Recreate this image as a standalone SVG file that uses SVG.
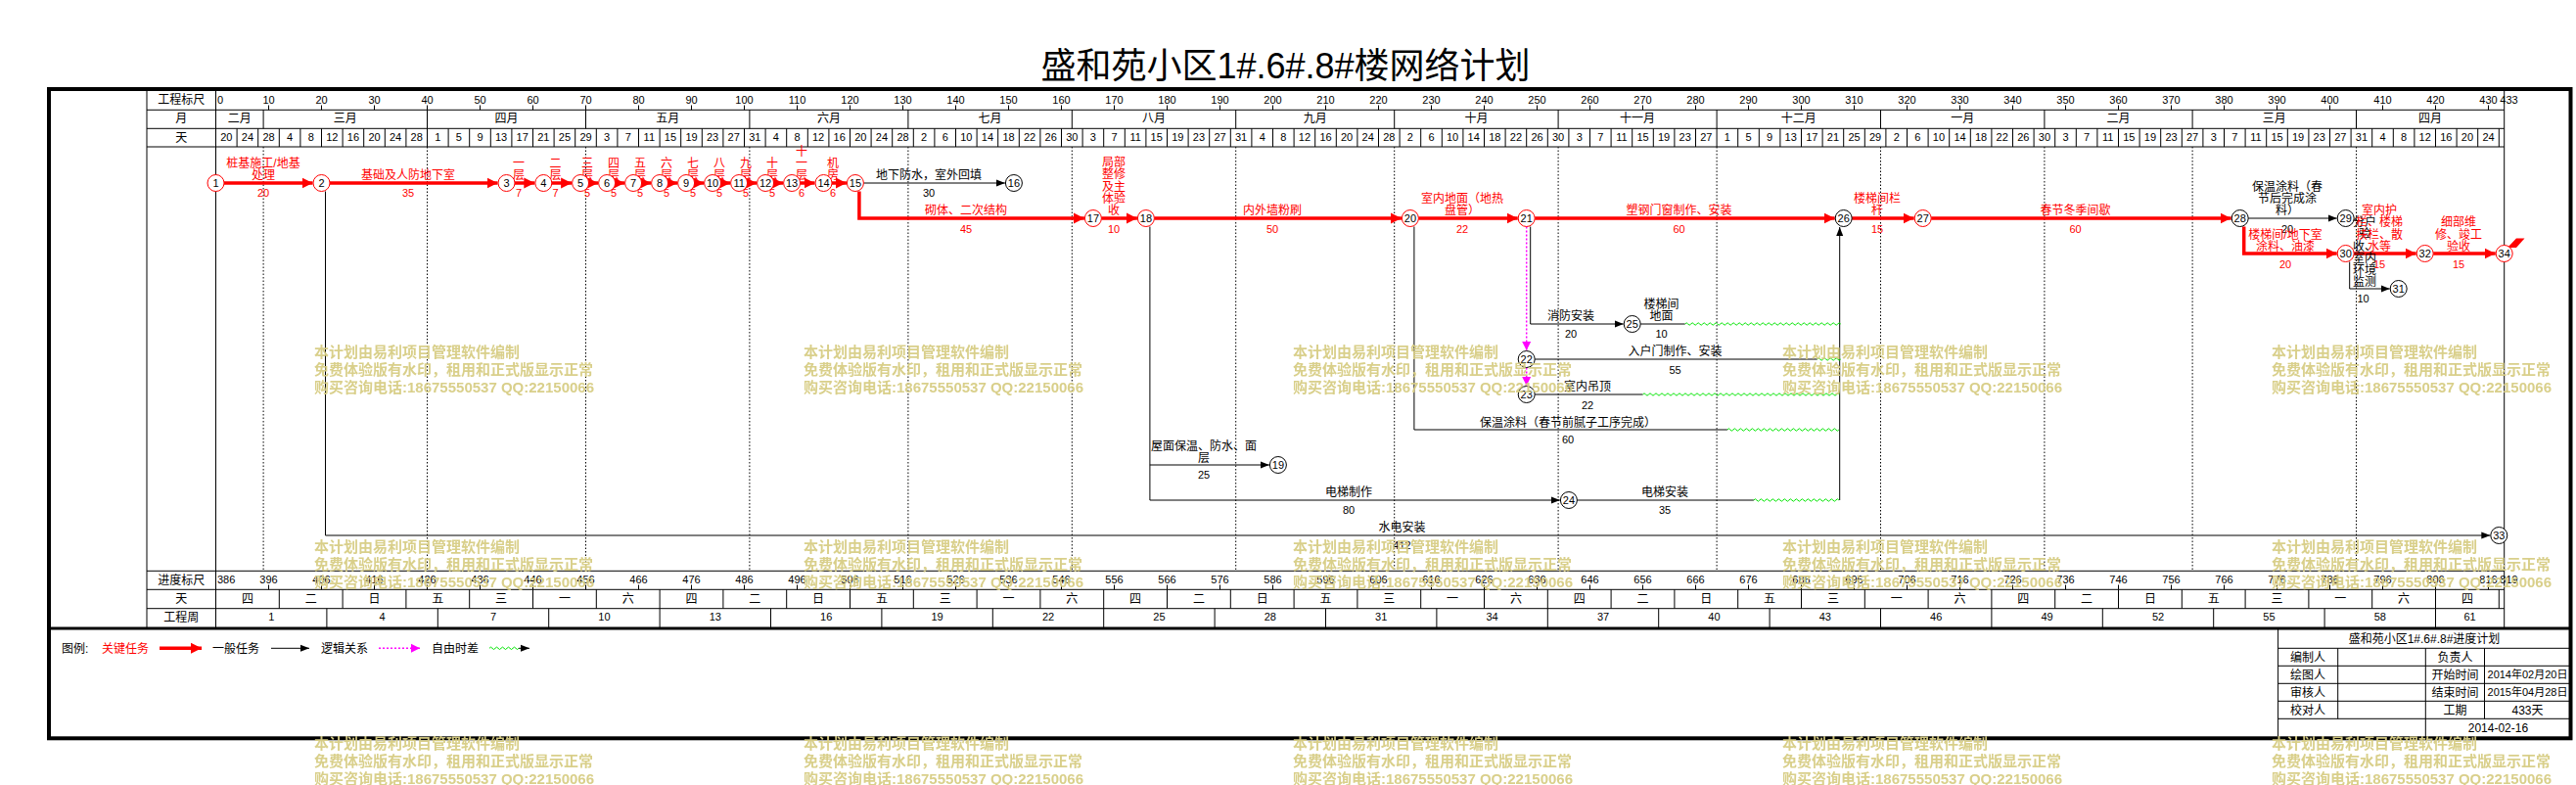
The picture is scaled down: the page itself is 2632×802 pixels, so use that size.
<svg xmlns="http://www.w3.org/2000/svg" xmlns:xlink="http://www.w3.org/1999/xlink" width="2632" height="802" viewBox="0 0 2632 802">
<style>
text{font-family:"Liberation Sans","Noto Sans CJK SC",sans-serif;font-size:12px;fill:#000}
.c{text-anchor:middle}
.d{font-size:11px}
.r{fill:#ff0000}
.ln{stroke:#000;stroke-width:1;fill:none}
.dot{stroke:#000;stroke-width:1;stroke-dasharray:1.5 2;fill:none}
.crit{stroke:#ff0000;stroke-width:3.5;fill:none;marker-end:url(#ar)}
.norm{stroke:#000;stroke-width:1;fill:none;marker-end:url(#ab)}
.logic{stroke:#ff00ff;stroke-width:1.5;stroke-dasharray:2 2;fill:none;marker-end:url(#am)}
.wave{stroke:#00e600;stroke-width:1;fill:none}
.nd{fill:#fff;stroke-width:1}
.ndr{stroke:#ff0000}
.ndb{stroke:#000}
.nn{font-size:11px;text-anchor:middle}
.wm text{font-size:15px;font-weight:bold;fill:#d7cd84}
</style>
<defs>
<marker id="ar" markerUnits="userSpaceOnUse" viewBox="0 0 12 12" refX="11" refY="6" markerWidth="12" markerHeight="12" orient="auto"><path d="M0,0.5L11,6L0,11.5z" fill="#ff0000"/></marker>
<marker id="ab" markerUnits="userSpaceOnUse" viewBox="0 0 10 8" refX="9" refY="4" markerWidth="10" markerHeight="8" orient="auto"><path d="M0,0.5L9,4L0,7.5z" fill="#000"/></marker>
<marker id="am" markerUnits="userSpaceOnUse" viewBox="0 0 10 10" refX="9" refY="5" markerWidth="10" markerHeight="10" orient="auto"><path d="M0,0.5L9,5L0,9.5z" fill="#ff00ff"/></marker>
<g id="wmk" class="wm"><text x="0" y="0">本计划由易利项目管理软件编制</text><text x="0" y="18.4">免费体验版有水印，租用和正式版显示正常</text><text x="0" y="36.4">购买咨询电话:18675550537 QQ:22150066</text></g>
</defs>
<rect width="2632" height="802" fill="#fff"/>

<g id="title"><text class="c" x="1313.5" y="80" style="font-size:36px">盛和苑小区1#.6#.8#楼网络计划</text></g>

<g id="frame">
<rect x="50" y="91" width="2576.5" height="663.3" fill="none" stroke="#000" stroke-width="4"/>
<path d="M50,642H2626.5" stroke="#000" stroke-width="3"/>
<path class="ln" d="M150,91V642M220.5,91V642M2558.7,91V642M150,112.3H2558.7M150,131.3H2558.7M150,150H2558.7M150,583.3H2558.7M150,602.3H2558.7M150,621.7H2558.7"/>
</g>

<g id="timescale-top">
<text class="c" x="185.2" y="106">工程标尺</text>
<text class="c" x="185.2" y="125.3">月</text>
<text class="c" x="185.2" y="144.6">天</text>
<path class="ln" d="M274.5,107.5V112.3M328.5,107.5V112.3M382.5,107.5V112.3M436.5,107.5V112.3M490.5,107.5V112.3M544.5,107.5V112.3M598.5,107.5V112.3M652.5,107.5V112.3M706.5,107.5V112.3M760.5,107.5V112.3M814.5,107.5V112.3M868.5,107.5V112.3M922.5,107.5V112.3M976.5,107.5V112.3M1030.5,107.5V112.3M1084.5,107.5V112.3M1138.5,107.5V112.3M1192.5,107.5V112.3M1246.5,107.5V112.3M1300.5,107.5V112.3M1354.5,107.5V112.3M1408.5,107.5V112.3M1462.5,107.5V112.3M1516.5,107.5V112.3M1570.5,107.5V112.3M1624.5,107.5V112.3M1678.5,107.5V112.3M1732.5,107.5V112.3M1786.5,107.5V112.3M1840.5,107.5V112.3M1894.5,107.5V112.3M1948.5,107.5V112.3M2002.5,107.5V112.3M2056.5,107.5V112.3M2110.5,107.5V112.3M2164.5,107.5V112.3M2218.5,107.5V112.3M2272.5,107.5V112.3M2326.5,107.5V112.3M2380.5,107.5V112.3M2434.5,107.5V112.3M2488.5,107.5V112.3M2542.5,107.5V112.3"/>
<text class="d" x="222" y="105.7">0</text>
<text class="c d" y="105.7"><tspan x="274.5">10</tspan><tspan x="328.5">20</tspan><tspan x="382.5">30</tspan><tspan x="436.5">40</tspan><tspan x="490.5">50</tspan><tspan x="544.5">60</tspan><tspan x="598.5">70</tspan><tspan x="652.5">80</tspan><tspan x="706.5">90</tspan><tspan x="760.5">100</tspan><tspan x="814.5">110</tspan><tspan x="868.5">120</tspan><tspan x="922.5">130</tspan><tspan x="976.5">140</tspan><tspan x="1030.5">150</tspan><tspan x="1084.5">160</tspan><tspan x="1138.5">170</tspan><tspan x="1192.5">180</tspan><tspan x="1246.5">190</tspan><tspan x="1300.5">200</tspan><tspan x="1354.5">210</tspan><tspan x="1408.5">220</tspan><tspan x="1462.5">230</tspan><tspan x="1516.5">240</tspan><tspan x="1570.5">250</tspan><tspan x="1624.5">260</tspan><tspan x="1678.5">270</tspan><tspan x="1732.5">280</tspan><tspan x="1786.5">290</tspan><tspan x="1840.5">300</tspan><tspan x="1894.5">310</tspan><tspan x="1948.5">320</tspan><tspan x="2002.5">330</tspan><tspan x="2056.5">340</tspan><tspan x="2110.5">350</tspan><tspan x="2164.5">360</tspan><tspan x="2218.5">370</tspan><tspan x="2272.5">380</tspan><tspan x="2326.5">390</tspan><tspan x="2380.5">400</tspan><tspan x="2434.5">410</tspan><tspan x="2488.5">420</tspan><tspan x="2542.5">430</tspan><tspan x="2563.5">433</tspan></text>
<path class="ln" d="M269.1,112.3V131.3M436.5,112.3V131.3M598.5,112.3V131.3M765.9,112.3V131.3M927.9,112.3V131.3M1095.3,112.3V131.3M1262.7,112.3V131.3M1424.7,112.3V131.3M1592.1,112.3V131.3M1754.1,112.3V131.3M1921.5,112.3V131.3M2088.9,112.3V131.3M2240.1,112.3V131.3M2407.5,112.3V131.3"/>
<text class="c" y="125.3"><tspan x="244.8">二月</tspan><tspan x="352.8">三月</tspan><tspan x="517.5">四月</tspan><tspan x="682.2">五月</tspan><tspan x="846.9">六月</tspan><tspan x="1011.6">七月</tspan><tspan x="1179">八月</tspan><tspan x="1343.7">九月</tspan><tspan x="1508.4">十月</tspan><tspan x="1673.1">十一月</tspan><tspan x="1837.8">十二月</tspan><tspan x="2005.2">一月</tspan><tspan x="2164.5">二月</tspan><tspan x="2323.8">三月</tspan><tspan x="2483.1">四月</tspan></text>
<path class="ln" d="M242.1,131.3V150M263.7,131.3V150M285.3,131.3V150M306.9,131.3V150M328.5,131.3V150M350.1,131.3V150M371.7,131.3V150M393.3,131.3V150M414.9,131.3V150M436.5,131.3V150M458.1,131.3V150M479.7,131.3V150M501.3,131.3V150M522.9,131.3V150M544.5,131.3V150M566.1,131.3V150M587.7,131.3V150M609.3,131.3V150M630.9,131.3V150M652.5,131.3V150M674.1,131.3V150M695.7,131.3V150M717.3,131.3V150M738.9,131.3V150M760.5,131.3V150M782.1,131.3V150M803.7,131.3V150M825.3,131.3V150M846.9,131.3V150M868.5,131.3V150M890.1,131.3V150M911.7,131.3V150M933.3,131.3V150M954.9,131.3V150M976.5,131.3V150M998.1,131.3V150M1019.7,131.3V150M1041.3,131.3V150M1062.9,131.3V150M1084.5,131.3V150M1106.1,131.3V150M1127.7,131.3V150M1149.3,131.3V150M1170.9,131.3V150M1192.5,131.3V150M1214.1,131.3V150M1235.7,131.3V150M1257.3,131.3V150M1278.9,131.3V150M1300.5,131.3V150M1322.1,131.3V150M1343.7,131.3V150M1365.3,131.3V150M1386.9,131.3V150M1408.5,131.3V150M1430.1,131.3V150M1451.7,131.3V150M1473.3,131.3V150M1494.9,131.3V150M1516.5,131.3V150M1538.1,131.3V150M1559.7,131.3V150M1581.3,131.3V150M1602.9,131.3V150M1624.5,131.3V150M1646.1,131.3V150M1667.7,131.3V150M1689.3,131.3V150M1710.9,131.3V150M1732.5,131.3V150M1754.1,131.3V150M1775.7,131.3V150M1797.3,131.3V150M1818.9,131.3V150M1840.5,131.3V150M1862.1,131.3V150M1883.7,131.3V150M1905.3,131.3V150M1926.9,131.3V150M1948.5,131.3V150M1970.1,131.3V150M1991.7,131.3V150M2013.3,131.3V150M2034.9,131.3V150M2056.5,131.3V150M2078.1,131.3V150M2099.7,131.3V150M2121.3,131.3V150M2142.9,131.3V150M2164.5,131.3V150M2186.1,131.3V150M2207.7,131.3V150M2229.3,131.3V150M2250.9,131.3V150M2272.5,131.3V150M2294.1,131.3V150M2315.7,131.3V150M2337.3,131.3V150M2358.9,131.3V150M2380.5,131.3V150M2402.1,131.3V150M2423.7,131.3V150M2445.3,131.3V150M2466.9,131.3V150M2488.5,131.3V150M2510.1,131.3V150M2531.7,131.3V150M2553.3,131.3V150"/>
<text class="c d" y="144.3"><tspan x="231.3">20</tspan><tspan x="252.9">24</tspan><tspan x="274.5">28</tspan><tspan x="296.1">4</tspan><tspan x="317.7">8</tspan><tspan x="339.3">12</tspan><tspan x="360.9">16</tspan><tspan x="382.5">20</tspan><tspan x="404.1">24</tspan><tspan x="425.7">28</tspan><tspan x="447.3">1</tspan><tspan x="468.9">5</tspan><tspan x="490.5">9</tspan><tspan x="512.1">13</tspan><tspan x="533.7">17</tspan><tspan x="555.3">21</tspan><tspan x="576.9">25</tspan><tspan x="598.5">29</tspan><tspan x="620.1">3</tspan><tspan x="641.7">7</tspan><tspan x="663.3">11</tspan><tspan x="684.9">15</tspan><tspan x="706.5">19</tspan><tspan x="728.1">23</tspan><tspan x="749.7">27</tspan><tspan x="771.3">31</tspan><tspan x="792.9">4</tspan><tspan x="814.5">8</tspan><tspan x="836.1">12</tspan><tspan x="857.7">16</tspan><tspan x="879.3">20</tspan><tspan x="900.9">24</tspan><tspan x="922.5">28</tspan><tspan x="944.1">2</tspan><tspan x="965.7">6</tspan><tspan x="987.3">10</tspan><tspan x="1008.9">14</tspan><tspan x="1030.5">18</tspan><tspan x="1052.1">22</tspan><tspan x="1073.7">26</tspan><tspan x="1095.3">30</tspan><tspan x="1116.9">3</tspan><tspan x="1138.5">7</tspan><tspan x="1160.1">11</tspan><tspan x="1181.7">15</tspan><tspan x="1203.3">19</tspan><tspan x="1224.9">23</tspan><tspan x="1246.5">27</tspan><tspan x="1268.1">31</tspan><tspan x="1289.7">4</tspan><tspan x="1311.3">8</tspan><tspan x="1332.9">12</tspan><tspan x="1354.5">16</tspan><tspan x="1376.1">20</tspan><tspan x="1397.7">24</tspan><tspan x="1419.3">28</tspan><tspan x="1440.9">2</tspan><tspan x="1462.5">6</tspan><tspan x="1484.1">10</tspan><tspan x="1505.7">14</tspan><tspan x="1527.3">18</tspan><tspan x="1548.9">22</tspan><tspan x="1570.5">26</tspan><tspan x="1592.1">30</tspan><tspan x="1613.7">3</tspan><tspan x="1635.3">7</tspan><tspan x="1656.9">11</tspan><tspan x="1678.5">15</tspan><tspan x="1700.1">19</tspan><tspan x="1721.7">23</tspan><tspan x="1743.3">27</tspan><tspan x="1764.9">1</tspan><tspan x="1786.5">5</tspan><tspan x="1808.1">9</tspan><tspan x="1829.7">13</tspan><tspan x="1851.3">17</tspan><tspan x="1872.9">21</tspan><tspan x="1894.5">25</tspan><tspan x="1916.1">29</tspan><tspan x="1937.7">2</tspan><tspan x="1959.3">6</tspan><tspan x="1980.9">10</tspan><tspan x="2002.5">14</tspan><tspan x="2024.1">18</tspan><tspan x="2045.7">22</tspan><tspan x="2067.3">26</tspan><tspan x="2088.9">30</tspan><tspan x="2110.5">3</tspan><tspan x="2132.1">7</tspan><tspan x="2153.7">11</tspan><tspan x="2175.3">15</tspan><tspan x="2196.9">19</tspan><tspan x="2218.5">23</tspan><tspan x="2240.1">27</tspan><tspan x="2261.7">3</tspan><tspan x="2283.3">7</tspan><tspan x="2304.9">11</tspan><tspan x="2326.5">15</tspan><tspan x="2348.1">19</tspan><tspan x="2369.7">23</tspan><tspan x="2391.3">27</tspan><tspan x="2412.9">31</tspan><tspan x="2434.5">4</tspan><tspan x="2456.1">8</tspan><tspan x="2477.7">12</tspan><tspan x="2499.3">16</tspan><tspan x="2520.9">20</tspan><tspan x="2542.5">24</tspan></text>
</g>

<g id="month-lines">
<path class="dot" d="M269.1,150V583.3M436.5,150V583.3M598.5,150V583.3M765.9,150V583.3M927.9,150V583.3M1095.3,150V583.3M1262.7,150V583.3M1424.7,150V583.3M1592.1,150V583.3M1754.1,150V583.3M1921.5,150V583.3M2088.9,150V583.3M2240.1,150V583.3M2407.5,150V583.3"/>
</g>

<g id="timescale-bottom">
<text class="c" x="185.2" y="596.6">进度标尺</text>
<text class="c" x="185.2" y="616">天</text>
<text class="c" x="185.2" y="634.6">工程周</text>
<path class="ln" d="M274.5,597.5V602.3M328.5,597.5V602.3M382.5,597.5V602.3M436.5,597.5V602.3M490.5,597.5V602.3M544.5,597.5V602.3M598.5,597.5V602.3M652.5,597.5V602.3M706.5,597.5V602.3M760.5,597.5V602.3M814.5,597.5V602.3M868.5,597.5V602.3M922.5,597.5V602.3M976.5,597.5V602.3M1030.5,597.5V602.3M1084.5,597.5V602.3M1138.5,597.5V602.3M1192.5,597.5V602.3M1246.5,597.5V602.3M1300.5,597.5V602.3M1354.5,597.5V602.3M1408.5,597.5V602.3M1462.5,597.5V602.3M1516.5,597.5V602.3M1570.5,597.5V602.3M1624.5,597.5V602.3M1678.5,597.5V602.3M1732.5,597.5V602.3M1786.5,597.5V602.3M1840.5,597.5V602.3M1894.5,597.5V602.3M1948.5,597.5V602.3M2002.5,597.5V602.3M2056.5,597.5V602.3M2110.5,597.5V602.3M2164.5,597.5V602.3M2218.5,597.5V602.3M2272.5,597.5V602.3M2326.5,597.5V602.3M2380.5,597.5V602.3M2434.5,597.5V602.3M2488.5,597.5V602.3M2542.5,597.5V602.3"/>
<text class="d" x="222" y="596.3">386</text>
<text class="c d" y="596.3"><tspan x="274.5">396</tspan><tspan x="328.5">406</tspan><tspan x="382.5">416</tspan><tspan x="436.5">426</tspan><tspan x="490.5">436</tspan><tspan x="544.5">446</tspan><tspan x="598.5">456</tspan><tspan x="652.5">466</tspan><tspan x="706.5">476</tspan><tspan x="760.5">486</tspan><tspan x="814.5">496</tspan><tspan x="868.5">506</tspan><tspan x="922.5">516</tspan><tspan x="976.5">526</tspan><tspan x="1030.5">536</tspan><tspan x="1084.5">546</tspan><tspan x="1138.5">556</tspan><tspan x="1192.5">566</tspan><tspan x="1246.5">576</tspan><tspan x="1300.5">586</tspan><tspan x="1354.5">596</tspan><tspan x="1408.5">606</tspan><tspan x="1462.5">616</tspan><tspan x="1516.5">626</tspan><tspan x="1570.5">636</tspan><tspan x="1624.5">646</tspan><tspan x="1678.5">656</tspan><tspan x="1732.5">666</tspan><tspan x="1786.5">676</tspan><tspan x="1840.5">686</tspan><tspan x="1894.5">696</tspan><tspan x="1948.5">706</tspan><tspan x="2002.5">716</tspan><tspan x="2056.5">726</tspan><tspan x="2110.5">736</tspan><tspan x="2164.5">746</tspan><tspan x="2218.5">756</tspan><tspan x="2272.5">766</tspan><tspan x="2326.5">776</tspan><tspan x="2380.5">786</tspan><tspan x="2434.5">796</tspan><tspan x="2488.5">806</tspan><tspan x="2542.5">816</tspan><tspan x="2563.5">819</tspan></text>
<path class="ln" d="M285.3,602.3V621.7M350.1,602.3V621.7M414.9,602.3V621.7M479.7,602.3V621.7M544.5,602.3V621.7M609.3,602.3V621.7M674.1,602.3V621.7M738.9,602.3V621.7M803.7,602.3V621.7M868.5,602.3V621.7M933.3,602.3V621.7M998.1,602.3V621.7M1062.9,602.3V621.7M1127.7,602.3V621.7M1192.5,602.3V621.7M1257.3,602.3V621.7M1322.1,602.3V621.7M1386.9,602.3V621.7M1451.7,602.3V621.7M1516.5,602.3V621.7M1581.3,602.3V621.7M1646.1,602.3V621.7M1710.9,602.3V621.7M1775.7,602.3V621.7M1840.5,602.3V621.7M1905.3,602.3V621.7M1970.1,602.3V621.7M2034.9,602.3V621.7M2099.7,602.3V621.7M2164.5,602.3V621.7M2229.3,602.3V621.7M2294.1,602.3V621.7M2358.9,602.3V621.7M2423.7,602.3V621.7M2488.5,602.3V621.7M2553.3,602.3V621.7"/>
<text class="c" y="616.3"><tspan x="252.9">四</tspan><tspan x="317.7">二</tspan><tspan x="382.5">日</tspan><tspan x="447.3">五</tspan><tspan x="512.1">三</tspan><tspan x="576.9">一</tspan><tspan x="641.7">六</tspan><tspan x="706.5">四</tspan><tspan x="771.3">二</tspan><tspan x="836.1">日</tspan><tspan x="900.9">五</tspan><tspan x="965.7">三</tspan><tspan x="1030.5">一</tspan><tspan x="1095.3">六</tspan><tspan x="1160.1">四</tspan><tspan x="1224.9">二</tspan><tspan x="1289.7">日</tspan><tspan x="1354.5">五</tspan><tspan x="1419.3">三</tspan><tspan x="1484.1">一</tspan><tspan x="1548.9">六</tspan><tspan x="1613.7">四</tspan><tspan x="1678.5">二</tspan><tspan x="1743.3">日</tspan><tspan x="1808.1">五</tspan><tspan x="1872.9">三</tspan><tspan x="1937.7">一</tspan><tspan x="2002.5">六</tspan><tspan x="2067.3">四</tspan><tspan x="2132.1">二</tspan><tspan x="2196.9">日</tspan><tspan x="2261.7">五</tspan><tspan x="2326.5">三</tspan><tspan x="2391.3">一</tspan><tspan x="2456.1">六</tspan><tspan x="2520.9">四</tspan></text>
<path class="ln" d="M333.9,621.7V642M447.3,621.7V642M560.7,621.7V642M674.1,621.7V642M787.5,621.7V642M900.9,621.7V642M1014.3,621.7V642M1127.7,621.7V642M1241.1,621.7V642M1354.5,621.7V642M1467.9,621.7V642M1581.3,621.7V642M1694.7,621.7V642M1808.1,621.7V642M1921.5,621.7V642M2034.9,621.7V642M2148.3,621.7V642M2261.7,621.7V642M2375.1,621.7V642M2488.5,621.7V642"/>
<text class="c d" y="634.3"><tspan x="277.2">1</tspan><tspan x="390.6">4</tspan><tspan x="504">7</tspan><tspan x="617.4">10</tspan><tspan x="730.8">13</tspan><tspan x="844.2">16</tspan><tspan x="957.6">19</tspan><tspan x="1071">22</tspan><tspan x="1184.4">25</tspan><tspan x="1297.8">28</tspan><tspan x="1411.2">31</tspan><tspan x="1524.6">34</tspan><tspan x="1638">37</tspan><tspan x="1751.4">40</tspan><tspan x="1864.8">43</tspan><tspan x="1978.2">46</tspan><tspan x="2091.6">49</tspan><tspan x="2205">52</tspan><tspan x="2318.4">55</tspan><tspan x="2431.8">58</tspan><tspan x="2523.6">61</tspan></text>
</g>

<g id="connectors">
<path class="crit" d="M229,187H319.5"/>
<path class="crit" d="M337,187H508.5"/>
<path class="crit" d="M526,187H546.3"/>
<path class="crit" d="M563.8,187H584.1"/>
<path class="crit" d="M601.6,187H611.1"/>
<path class="crit" d="M628.6,187H638.1"/>
<path class="crit" d="M655.6,187H665.1"/>
<path class="crit" d="M682.6,187H692.1"/>
<path class="crit" d="M709.6,187H719.1"/>
<path class="crit" d="M736.6,187H746.1"/>
<path class="crit" d="M763.6,187H773.1"/>
<path class="crit" d="M790.6,187H800.1"/>
<path class="crit" d="M817.6,187H832.5"/>
<path class="crit" d="M850,187H864.9"/>
<path class="crit" d="M877.9,195.5V223H1107.9"/>
<path class="crit" d="M1125.4,223H1161.9"/>
<path class="crit" d="M1179.4,223H1431.9"/>
<path class="crit" d="M1449.4,223H1550.7"/>
<path class="crit" d="M1568.2,223H1874.7"/>
<path class="crit" d="M1892.2,223H1955.7"/>
<path class="crit" d="M1973.2,223H2279.7"/>
<path class="crit" d="M2292.7,231.5V259H2387.7"/>
<path class="crit" d="M2405.2,259H2468.7"/>
<path class="crit" d="M2486.2,259H2549.7"/>
<path class="norm" d="M882.4,187H1026.9"/>
<path class="norm" d="M1174.9,231.5V511H1593.9"/>
<path class="norm" d="M1174.9,475H1296.9"/>
<path class="norm" d="M332.5,195.5V547H2544.3"/>
<path class="ln" d="M1444.9,231.5V439H1764.9"/>
<path class="norm" d="M1563.7,231.5V331H1658.7"/>
<path class="ln" d="M1568.2,367H1856.7"/>
<path class="ln" d="M1568.2,403H1678.5"/>
<path class="ln" d="M1676.2,331H1721.7"/>
<path class="ln" d="M1611.4,511H1791.9"/>
<path class="norm" d="M1879.7,511V232"/>
<path class="norm" d="M2297.2,223H2387.7"/>
<path class="norm" d="M2400.7,267.5V295H2441.7"/>
<path class="logic" d="M1559.7,231.5V358"/>
<path class="logic" d="M1559.7,375.5V394"/>
<path class="wave" d="M1721.7,331q1.5,-2.4 3,0t3,0t3,0t3,0t3,0t3,0t3,0t3,0t3,0t3,0t3,0t3,0t3,0t3,0t3,0t3,0t3,0t3,0t3,0t3,0t3,0t3,0t3,0t3,0t3,0t3,0t3,0t3,0t3,0t3,0t3,0t3,0t3,0t3,0t3,0t3,0t3,0t3,0t3,0t3,0t3,0t3,0t3,0t3,0t3,0t3,0t3,0t3,0t3,0t3,0t3,0t3,0t3,0"/>
<path class="wave" d="M1856.7,367q1.5,-2.4 3,0t3,0t3,0t3,0t3,0t3,0t3,0t3,0"/>
<path class="wave" d="M1678.5,403q1.5,-2.4 3,0t3,0t3,0t3,0t3,0t3,0t3,0t3,0t3,0t3,0t3,0t3,0t3,0t3,0t3,0t3,0t3,0t3,0t3,0t3,0t3,0t3,0t3,0t3,0t3,0t3,0t3,0t3,0t3,0t3,0t3,0t3,0t3,0t3,0t3,0t3,0t3,0t3,0t3,0t3,0t3,0t3,0t3,0t3,0t3,0t3,0t3,0t3,0t3,0t3,0t3,0t3,0t3,0t3,0t3,0t3,0t3,0t3,0t3,0t3,0t3,0t3,0t3,0t3,0t3,0t3,0t3,0"/>
<path class="wave" d="M1764.9,439q1.5,-2.4 3,0t3,0t3,0t3,0t3,0t3,0t3,0t3,0t3,0t3,0t3,0t3,0t3,0t3,0t3,0t3,0t3,0t3,0t3,0t3,0t3,0t3,0t3,0t3,0t3,0t3,0t3,0t3,0t3,0t3,0t3,0t3,0t3,0t3,0t3,0t3,0t3,0t3,0"/>
<path class="wave" d="M1791.9,511q1.5,-2.4 3,0t3,0t3,0t3,0t3,0t3,0t3,0t3,0t3,0t3,0t3,0t3,0t3,0t3,0t3,0t3,0t3,0t3,0t3,0t3,0t3,0t3,0t3,0t3,0t3,0t3,0t3,0t3,0t3,0"/>
<polygon points="2562,253 2571,243.5 2579.5,243.5 2571,253" fill="#ff0000"/>
</g>

<g id="labels">
<text class="c r" x="269" y="171">桩基施工/地基<tspan x="269" y="183.3">处理</tspan></text>
<text class="c r d" x="269" y="201">20</text>
<text class="c r" x="417" y="183.3">基础及人防地下室</text>
<text class="c r d" x="417" y="201">35</text>
<text class="c r" x="530" y="171">一<tspan x="530" y="183.3">层</tspan></text>
<text class="c r d" x="530" y="201">7</text>
<text class="c r" x="567.5" y="171">二<tspan x="567.5" y="183.3">层</tspan></text>
<text class="c r d" x="567.5" y="201">7</text>
<text class="c r" x="600" y="171">三<tspan x="600" y="183.3">层</tspan></text>
<text class="c r d" x="600" y="201">5</text>
<text class="c r" x="627" y="171">四<tspan x="627" y="183.3">层</tspan></text>
<text class="c r d" x="627" y="201">5</text>
<text class="c r" x="654" y="171">五<tspan x="654" y="183.3">层</tspan></text>
<text class="c r d" x="654" y="201">5</text>
<text class="c r" x="681" y="171">六<tspan x="681" y="183.3">层</tspan></text>
<text class="c r d" x="681" y="201">5</text>
<text class="c r" x="708" y="171">七<tspan x="708" y="183.3">层</tspan></text>
<text class="c r d" x="708" y="201">5</text>
<text class="c r" x="735" y="171">八<tspan x="735" y="183.3">层</tspan></text>
<text class="c r d" x="735" y="201">5</text>
<text class="c r" x="762" y="171">九<tspan x="762" y="183.3">层</tspan></text>
<text class="c r d" x="762" y="201">5</text>
<text class="c r" x="789" y="171">十<tspan x="789" y="183.3">层</tspan></text>
<text class="c r d" x="789" y="201">5</text>
<text class="c r" x="819" y="158.7">十<tspan x="819" y="171">一</tspan><tspan x="819" y="183.3">层</tspan></text>
<text class="c r d" x="819" y="201">6</text>
<text class="c r" x="851" y="171">机<tspan x="851" y="183.3">房</tspan></text>
<text class="c r d" x="851" y="201">6</text>
<text class="c" x="949" y="183.3">地下防水，室外回填</text>
<text class="c d" x="949" y="201">30</text>
<text class="c r" x="987" y="219.3">砌体、二次结构</text>
<text class="c r d" x="987" y="237.6">45</text>
<text class="c r" x="1138" y="170.1">局部<tspan x="1138" y="182.4">整修</tspan><tspan x="1138" y="194.7">及主</tspan><tspan x="1138" y="207">体验</tspan><tspan x="1138" y="219.3">收</tspan></text>
<text class="c r d" x="1138" y="237.6">10</text>
<text class="c r" x="1300" y="219.3">内外墙粉刷</text>
<text class="c r d" x="1300" y="237.6">50</text>
<text class="c r" x="1494" y="207">室内地面（地热<tspan x="1494" y="219.3">盘管）</tspan></text>
<text class="c r d" x="1494" y="237.6">22</text>
<text class="c r" x="1715.5" y="219.3">塑钢门窗制作、安装</text>
<text class="c r d" x="1715.5" y="237.6">60</text>
<text class="c r" x="1918" y="207">楼梯间栏<tspan x="1918" y="219.3">杆</tspan></text>
<text class="c r d" x="1918" y="237.6">15</text>
<text class="c r" x="2120.5" y="219.3">春节冬季间歇</text>
<text class="c r d" x="2120.5" y="237.6">60</text>
<text class="c" x="2337" y="194.7">保温涂料（春<tspan x="2337" y="207">节后完成涂</tspan><tspan x="2337" y="219.3">料）</tspan></text>
<text class="c d" x="2337" y="237.6">20</text>
<text class="c r" x="2335" y="243.6">楼梯间/地下室<tspan x="2335" y="256">涂料、油漆</tspan></text>
<text class="c r d" x="2335" y="273.6">20</text>
<text class="c" x="2416" y="231">分户<tspan x="2416" y="243.4">验</tspan><tspan x="2416" y="255.8">收、</tspan><tspan x="2416" y="267.9">室内</tspan><tspan x="2416" y="280">环境</tspan><tspan x="2416" y="291.8">监测</tspan></text>
<text class="c d" x="2414.5" y="309.3">10</text>
<text class="c r" x="2431" y="219.1">室内护<tspan x="2431" y="231.4">栏、楼梯</tspan><tspan x="2431" y="243.7">扶栏、散</tspan><tspan x="2431" y="256">水等</tspan></text>
<text class="c r d" x="2431" y="273.6">15</text>
<text class="c r" x="2512" y="231.4">细部维<tspan x="2512" y="243.7">修、竣工</tspan><tspan x="2512" y="256">验收</tspan></text>
<text class="c r d" x="2512" y="273.6">15</text>
<text class="c" x="1605" y="327">消防安装</text>
<text class="c d" x="1605" y="345.3">20</text>
<text class="c" x="1697.6" y="314.7">楼梯间<tspan x="1697.6" y="327">地面</tspan></text>
<text class="c d" x="1697.6" y="345.3">10</text>
<text class="c" x="1711.5" y="362.6">入户门制作、安装</text>
<text class="c d" x="1711.5" y="381.6">55</text>
<text class="c" x="1622" y="399.3">室内吊顶</text>
<text class="c d" x="1622" y="417.6">22</text>
<text class="c" x="1602" y="435.6">保温涂料（春节前腻子工序完成）</text>
<text class="c d" x="1602" y="453.3">60</text>
<text class="c" x="1230" y="459.7">屋面保温、防水、面<tspan x="1230" y="472">层</tspan></text>
<text class="c d" x="1230" y="489.3">25</text>
<text class="c" x="1378" y="507">电梯制作</text>
<text class="c d" x="1378" y="525.3">80</text>
<text class="c" x="1701" y="507">电梯安装</text>
<text class="c d" x="1701" y="525.3">35</text>
<text class="c" x="1432.5" y="543.3">水电安装</text>
<text class="c d" x="1432.5" y="561">412</text>
</g>

<g id="node-1"><circle class="nd ndr" cx="220.5" cy="187" r="8.5"/><text class="nn" x="220.5" y="191">1</text></g>
<g id="node-2"><circle class="nd ndr" cx="328.5" cy="187" r="8.5"/><text class="nn" x="328.5" y="191">2</text></g>
<g id="node-3"><circle class="nd ndr" cx="517.5" cy="187" r="8.5"/><text class="nn" x="517.5" y="191">3</text></g>
<g id="node-4"><circle class="nd ndr" cx="555.3" cy="187" r="8.5"/><text class="nn" x="555.3" y="191">4</text></g>
<g id="node-5"><circle class="nd ndr" cx="593.1" cy="187" r="8.5"/><text class="nn" x="593.1" y="191">5</text></g>
<g id="node-6"><circle class="nd ndr" cx="620.1" cy="187" r="8.5"/><text class="nn" x="620.1" y="191">6</text></g>
<g id="node-7"><circle class="nd ndr" cx="647.1" cy="187" r="8.5"/><text class="nn" x="647.1" y="191">7</text></g>
<g id="node-8"><circle class="nd ndr" cx="674.1" cy="187" r="8.5"/><text class="nn" x="674.1" y="191">8</text></g>
<g id="node-9"><circle class="nd ndr" cx="701.1" cy="187" r="8.5"/><text class="nn" x="701.1" y="191">9</text></g>
<g id="node-10"><circle class="nd ndr" cx="728.1" cy="187" r="8.5"/><text class="nn" x="728.1" y="191">10</text></g>
<g id="node-11"><circle class="nd ndr" cx="755.1" cy="187" r="8.5"/><text class="nn" x="755.1" y="191">11</text></g>
<g id="node-12"><circle class="nd ndr" cx="782.1" cy="187" r="8.5"/><text class="nn" x="782.1" y="191">12</text></g>
<g id="node-13"><circle class="nd ndr" cx="809.1" cy="187" r="8.5"/><text class="nn" x="809.1" y="191">13</text></g>
<g id="node-14"><circle class="nd ndr" cx="841.5" cy="187" r="8.5"/><text class="nn" x="841.5" y="191">14</text></g>
<g id="node-15"><circle class="nd ndr" cx="873.9" cy="187" r="8.5"/><text class="nn" x="873.9" y="191">15</text></g>
<g id="node-16"><circle class="nd ndb" cx="1035.9" cy="187" r="8.5"/><text class="nn" x="1035.9" y="191">16</text></g>
<g id="node-17"><circle class="nd ndr" cx="1116.9" cy="223" r="8.5"/><text class="nn" x="1116.9" y="227">17</text></g>
<g id="node-18"><circle class="nd ndr" cx="1170.9" cy="223" r="8.5"/><text class="nn" x="1170.9" y="227">18</text></g>
<g id="node-19"><circle class="nd ndb" cx="1305.9" cy="475" r="8.5"/><text class="nn" x="1305.9" y="479">19</text></g>
<g id="node-20"><circle class="nd ndr" cx="1440.9" cy="223" r="8.5"/><text class="nn" x="1440.9" y="227">20</text></g>
<g id="node-21"><circle class="nd ndr" cx="1559.7" cy="223" r="8.5"/><text class="nn" x="1559.7" y="227">21</text></g>
<g id="node-22"><circle class="nd ndb" cx="1559.7" cy="367" r="8.5"/><text class="nn" x="1559.7" y="371">22</text></g>
<g id="node-23"><circle class="nd ndb" cx="1559.7" cy="403" r="8.5"/><text class="nn" x="1559.7" y="407">23</text></g>
<g id="node-24"><circle class="nd ndb" cx="1602.9" cy="511" r="8.5"/><text class="nn" x="1602.9" y="515">24</text></g>
<g id="node-25"><circle class="nd ndb" cx="1667.7" cy="331" r="8.5"/><text class="nn" x="1667.7" y="335">25</text></g>
<g id="node-26"><circle class="nd ndb" cx="1883.7" cy="223" r="8.5"/><text class="nn" x="1883.7" y="227">26</text></g>
<g id="node-27"><circle class="nd ndr" cx="1964.7" cy="223" r="8.5"/><text class="nn" x="1964.7" y="227">27</text></g>
<g id="node-28"><circle class="nd ndb" cx="2288.7" cy="223" r="8.5"/><text class="nn" x="2288.7" y="227">28</text></g>
<g id="node-29"><circle class="nd ndb" cx="2396.7" cy="223" r="8.5"/><text class="nn" x="2396.7" y="227">29</text></g>
<g id="node-30"><circle class="nd ndr" cx="2396.7" cy="259" r="8.5"/><text class="nn" x="2396.7" y="263">30</text></g>
<g id="node-31"><circle class="nd ndb" cx="2450.7" cy="295" r="8.5"/><text class="nn" x="2450.7" y="299">31</text></g>
<g id="node-32"><circle class="nd ndr" cx="2477.7" cy="259" r="8.5"/><text class="nn" x="2477.7" y="263">32</text></g>
<g id="node-33"><circle class="nd ndb" cx="2553.3" cy="547" r="8.5"/><text class="nn" x="2553.3" y="551">33</text></g>
<g id="node-34"><circle class="nd ndr" cx="2558.7" cy="259" r="8.5"/><text class="nn" x="2558.7" y="263">34</text></g>

<g id="legend">
<text x="63" y="666.5">图例:</text>
<text class="r" x="104" y="666.5">关键任务</text>
<path class="crit" d="M163,662.3H206"/>
<text x="217" y="666.5">一般任务</text>
<path class="norm" d="M277,662.3H316"/>
<text x="328" y="666.5">逻辑关系</text>
<path class="logic" d="M387,662.3H429"/>
<text x="441" y="666.5">自由时差</text>
<path class="wave" d="M500,662.3q1.5,-2.4 3,0t3,0t3,0t3,0t3,0t3,0t3,0t3,0t3,0t3,0"/>
<path class="norm" d="M530,662.3H541"/>
</g>

<g id="title-block">
<path class="ln" d="M2327.6,642V754.3M2327.6,662.3H2626.5M2327.6,680.3H2626.5M2327.6,698.3H2626.5M2327.6,716.3H2626.5M2327.6,734.3H2626.5M2388.7,662.3V734.3M2478.3,662.3V754.3M2538.5,662.3V734.3"/>
<text class="c" x="2477" y="657">盛和苑小区1#.6#.8#进度计划</text>
<text class="c" x="2358" y="675.6">编制人</text>
<text class="c" x="2508.4" y="675.6">负责人</text>
<text class="c" x="2358" y="693.6">绘图人</text>
<text class="c" x="2508.4" y="693.6">开始时间</text>
<text class="c" x="2582.5" y="693.4" style="font-size:11px">2014年02月20日</text>
<text class="c" x="2358" y="711.6">审核人</text>
<text class="c" x="2508.4" y="711.6">结束时间</text>
<text class="c" x="2582.5" y="711.4" style="font-size:11px">2015年04月28日</text>
<text class="c" x="2358" y="729.6">校对人</text>
<text class="c" x="2508.4" y="729.6">工期</text>
<text class="c" x="2582.5" y="729.6">433天</text>
<text class="c" x="2552.4" y="748.4">2014-02-16</text>
</g>

<g id="watermarks" opacity="0.95">
<use href="#wmk" x="321" y="364.8"/>
<use href="#wmk" x="821" y="364.8"/>
<use href="#wmk" x="1321" y="364.8"/>
<use href="#wmk" x="1821" y="364.8"/>
<use href="#wmk" x="2321" y="364.8"/>
<use href="#wmk" x="321" y="563.8"/>
<use href="#wmk" x="821" y="563.8"/>
<use href="#wmk" x="1321" y="563.8"/>
<use href="#wmk" x="1821" y="563.8"/>
<use href="#wmk" x="2321" y="563.8"/>
<use href="#wmk" x="321" y="764.5"/>
<use href="#wmk" x="821" y="764.5"/>
<use href="#wmk" x="1321" y="764.5"/>
<use href="#wmk" x="1821" y="764.5"/>
<use href="#wmk" x="2321" y="764.5"/>
</g>
</svg>
